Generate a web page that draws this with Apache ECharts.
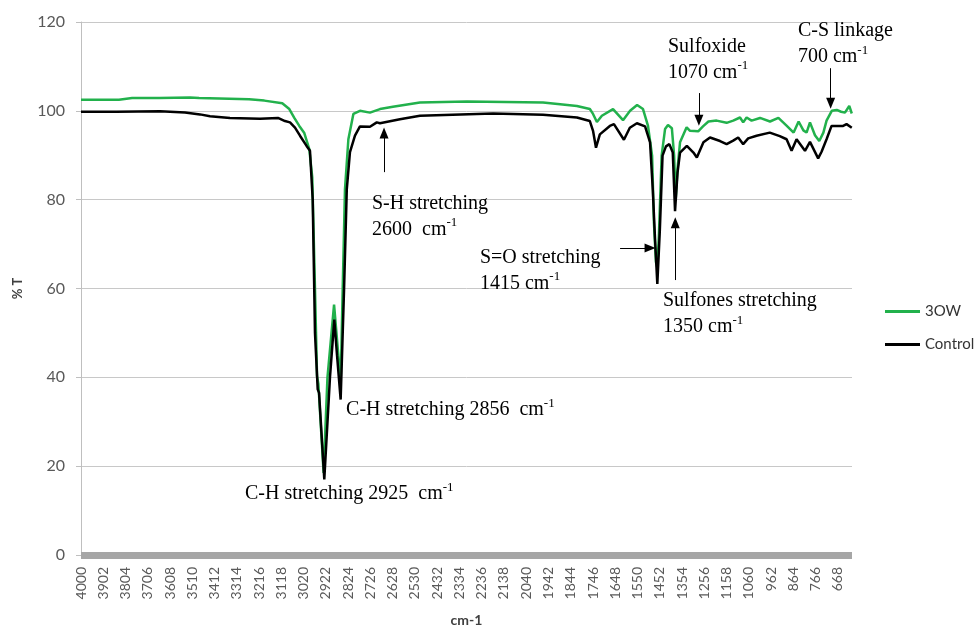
<!DOCTYPE html>
<html>
<head>
<meta charset="utf-8">
<script src="https://cdn.jsdelivr.net/npm/echarts@6/dist/echarts.min.js"></script>
<style>
  html, body { margin: 0; padding: 0; background: #fff; }
  #main { width: 975px; height: 628px; }
</style>
</head>
<body>
<div id="main"></div>
<script>
// wavenumber tick labels (cm-1), one every 98
var tickLabels = [4000, 3902, 3804, 3706, 3608, 3510, 3412, 3314, 3216, 3118, 3020, 2922, 2824, 2726,
    2628, 2530, 2432, 2334, 2236, 2138, 2040, 1942, 1844, 1746, 1648, 1550, 1452, 1354, 1256,
    1158, 1060, 962, 864, 766, 668];

// 3OW spectrum
var wn3OW = [4000, 3833, 3775, 3656, 3520, 3480, 3392, 3260, 3193, 3114, 3083, 3061, 3039, 3017,
    2995, 2982, 2970, 2961, 2955, 2943, 2932, 2915, 2886, 2857, 2848, 2838, 2823, 2801, 2772,
    2728, 2684, 2627, 2508, 2301, 1966, 1891, 1817, 1760, 1746, 1729, 1707, 1658, 1614, 1583,
    1552, 1526, 1504, 1486, 1478, 1469, 1463, 1456, 1444, 1429, 1416, 1399, 1389, 1382, 1374,
    1363, 1334, 1319, 1283, 1262, 1238, 1202, 1158, 1129, 1099, 1085, 1070, 1048, 1011, 967,
    930, 893, 863, 841, 820, 806, 791, 769, 750, 732, 718, 695, 673, 654, 637, 618, 607];
var t3OW = [102.5, 102.5, 102.9, 102.9, 103.0, 102.9, 102.8, 102.6, 102.3, 101.7, 100.4, 98.4, 96.6, 95.0,
    91.4, 85, 60, 40.3, 38.5, 28, 18.5, 40, 56.4, 38.8, 59.8, 82.3, 93.6, 99.3, 100.0,
    99.6, 100.4, 100.9, 101.9, 102.1, 101.9, 101.5, 101.1, 100.4, 99.3, 97.5, 98.9, 100.4, 97.9, 100.0,
    101.3, 100.4, 96.6, 89.9, 74.9, 65.9, 64.7, 72, 89.9, 95.9, 96.8, 96.1, 89.9, 80.1, 87,
    92.9, 96.3, 95.5, 95.4, 96.5, 97.6, 97.8, 97.3, 97.8, 98.5, 97.4, 98.5, 97.8, 98.4, 97.6,
    98.4, 96.6, 95.1, 97.6, 95.6, 95.1, 97.4, 94.5, 93.2, 95.1, 97.8, 100.0, 100.2, 99.8, 99.6, 101.1, 99.4];

// Control spectrum
var wnControl = [4000, 3845, 3841, 3652, 3542, 3476, 3432, 3344, 3212, 3133, 3102, 3080, 3058, 3036,
    3007, 2992, 2980, 2970, 2958, 2952, 2929, 2904, 2885, 2873, 2857, 2842, 2830, 2816, 2794,
    2772, 2728, 2698, 2684, 2596, 2508, 2186, 1966, 1817, 1760, 1746, 1733, 1716, 1672, 1654,
    1610, 1584, 1553, 1517, 1495, 1483, 1473, 1463, 1452, 1440, 1425, 1410, 1395, 1385, 1374,
    1363, 1333, 1304, 1289, 1260, 1231, 1187, 1158, 1129, 1107, 1085, 1063, 1026, 968, 924,
    894, 872, 850, 813, 791, 755, 740, 718, 696, 645, 630, 607];
var tControl = [99.8, 99.8, 100.1, 99.9, 99.6, 99.2, 98.8, 98.4, 98.2, 98.4, 97.7, 97.4, 96.2, 94.4,
    92.1, 91.0, 80, 50, 37.3, 36.5, 17.0, 40, 53.0, 45, 35.0, 59.8, 82.3, 90.7, 94.4,
    96.5, 96.4, 97.4, 97.2, 98.1, 98.9, 99.4, 99.1, 98.5, 97.7, 95.5, 91.7, 94.7, 96.6, 97.0,
    93.5, 96.2, 97.2, 96.5, 92.9, 82.3, 71.1, 61.0, 73, 89.9, 92.0, 92.5, 90.6, 77.4, 86.1,
    90.6, 92.1, 90.6, 89.5, 92.9, 94.0, 93.2, 92.5, 93.3, 94.0, 92.5, 93.8, 94.4, 95.1, 94.3,
    93.6, 91.0, 93.6, 91.0, 93.0, 89.3, 90.8, 93.6, 96.6, 96.6, 97.0, 96.2];

// annotation texts: [wavenumber, %T] of the block's left middle
var notes = [
    [3278, 13.7, '{t|C-H stretching 2925  cm}{s|-1}'],
    [2833, 32.6, '{t|C-H stretching 2856  cm}{s|-1}'],
    [2719, 76.2, '{t|S-H stretching}\n{t|2600  cm}{s|-1}'],
    [2244, 64.1, '{t|S=O stretching}\n{t|1415 cm}{s|-1}'],
    [1438, 54.3, '{t|Sulfones stretching}\n{t|1350 cm}{s|-1}'],
    [1416, 111.6, '{t|Sulfoxide}\n{t|1070 cm}{s|-1}'],
    [844, 115.0, '{t|C-S linkage}\n{t|700 cm}{s|-1}']
];
// arrows: from [wn, %T] to [wn, %T]
var arrows = [
    [[2666, 86.2], [2666, 95.0]],
    [[1627, 69.1], [1495, 69.1]],
    [[1384, 61.9], [1384, 74.8]],
    [[1280, 104.0], [1280, 97.9]],
    [[700, 109.6], [700, 101.7]]
];

function pairs(xs, ys) {
    return xs.map(function (x, i) { return [x, ys[i]]; });
}

var chart = echarts.init(document.getElementById('main'));
var option = {
    animation: false,
    grid: { left: 81, right: 123, top: 22, bottom: 73, containLabel: false, outerBoundsMode: 'none' },
    legend: {
        orient: 'vertical',
        left: 880,
        top: 299,
        icon: 'rect',
        itemWidth: 35,
        itemHeight: 3,
        itemGap: 18,
        textStyle: { fontFamily: 'Lato', fontSize: 15, color: '#333' },
        data: ['3OW', 'Control']
    },
    xAxis: {
        type: 'value',
        inverse: true,
        min: 606,
        max: 4000,
        offset: 4,
        name: 'cm-1',
        nameLocation: 'middle',
        nameGap: 54,
        nameTextStyle: { fontFamily: 'Lato', fontSize: 14, fontWeight: 'bold', color: '#404040' },
        axisLine: { lineStyle: { color: '#a6a6a6', width: 7, cap: 'butt' } },
        axisTick: { show: false },
        splitLine: { show: false },
        axisLabel: {
            customValues: tickLabels,
            rotate: 90,
            margin: 8,
            fontFamily: 'Lato',
            fontSize: 14,
            color: '#595959',
            formatter: function (v) { return String(v); }
        }
    },
    yAxis: {
        type: 'value',
        min: 0,
        max: 120,
        interval: 20,
        name: '% T',
        nameLocation: 'middle',
        nameGap: 57,
        nameTextStyle: { fontFamily: 'Lato', fontSize: 13, fontWeight: 'bold', color: '#404040' },
        axisLine: { show: true, lineStyle: { color: '#bfbfbf' } },
        axisTick: { show: true, length: 5, lineStyle: { color: '#bfbfbf' } },
        splitLine: { lineStyle: { color: '#c8c8c8' } },
        axisLabel: { margin: 16, fontFamily: 'Lato', fontSize: 16, color: '#595959' }
    },
    series: [
        {
            name: '3OW',
            type: 'line',
            symbol: 'none',
            color: '#22b14c',
            lineStyle: { width: 2.5, color: '#22b14c' },
            data: pairs(wn3OW, t3OW)
        },
        {
            name: 'Control',
            type: 'line',
            symbol: 'none',
            color: '#000',
            lineStyle: { width: 2.5, color: '#000' },
            data: pairs(wnControl, tControl),
            markLine: {
                silent: true,
                symbol: ['none', 'triangle'],
                symbolSize: [9, 11],
                lineStyle: { color: '#000', width: 1, type: 'solid' },
                label: { show: false },
                data: arrows.map(function (a) {
                    return [{ coord: a[0] }, { coord: a[1] }];
                })
            }
        }
    ]
};
chart.setOption(option);

// place the annotation texts in data space
var graphics = notes.map(function (n) {
    var p = chart.convertToPixel({ gridIndex: 0 }, [n[0], n[1]]);
    return {
        type: 'text',
        x: p[0],
        y: p[1],
        silent: true,
        style: {
            text: n[2],
            align: 'left',
            verticalAlign: 'middle',
            fill: '#000',
            rich: {
                t: { fontFamily: 'Liberation Serif', fontSize: 20, lineHeight: 26, fill: '#000' },
                s: { fontFamily: 'Liberation Serif', fontSize: 13, lineHeight: 26, verticalAlign: 'top', fill: '#000' }
            }
        }
    };
});
chart.setOption({ graphic: graphics });
</script>
</body>
</html>
